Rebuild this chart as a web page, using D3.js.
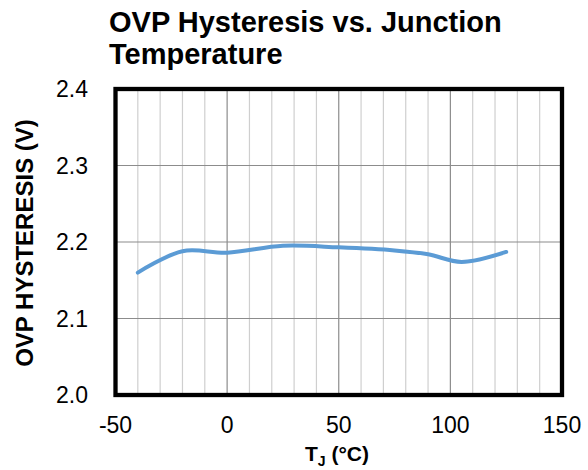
<!DOCTYPE html>
<html>
<head>
<meta charset="utf-8">
<script src="https://cdn.jsdelivr.net/npm/d3@7"></script>
<style>
  body { margin: 0; background: #fff; }
  text { font-family: "Liberation Sans", Arial, sans-serif; }
</style>
</head>
<body>
<div id="chart"></div>
<script>
// data
const temps = [-40, -20, 0, 25, 50, 75, 90, 105, 125];
const hyst = [2.160, 2.188, 2.186, 2.195, 2.193, 2.189, 2.184, 2.174, 2.187];
const xTicks = [-50, 0, 50, 100, 150];
const yTicks = [2.0, 2.1, 2.2, 2.3, 2.4];

const width = 588, height = 470;

const svg = d3.select("#chart").append("svg")
  .attr("width", width)
  .attr("height", height);

const x = d3.scaleLinear().domain([-50, 150]).range([115.5, 562]);
const y = d3.scaleLinear().domain([2.0, 2.4]).range([395, 89]);

// title
svg.append("text").attr("x", 109).attr("y", 32)
  .style("font-size", "29px").style("font-weight", "bold")
  .text("OVP Hysteresis vs. Junction");
svg.append("text").attr("x", 109).attr("y", 64)
  .style("font-size", "29px").style("font-weight", "bold")
  .text("Temperature");

// grid: minor every 10, major every 50
const g = svg.append("g");
g.selectAll("line.vminor").data(d3.range(-40, 150, 10).filter(v => v % 50 !== 0))
  .enter().append("line")
  .attr("x1", d => x(d)).attr("x2", d => x(d))
  .attr("y1", y(2.4)).attr("y2", y(2.0))
  .attr("stroke", "#cfcfcf").attr("stroke-width", 1.2);
g.selectAll("line.vmajor").data(xTicks.slice(1, -1))
  .enter().append("line")
  .attr("x1", d => x(d)).attr("x2", d => x(d))
  .attr("y1", y(2.4)).attr("y2", y(2.0))
  .attr("stroke", "#8c8c8c").attr("stroke-width", 1.2);
g.selectAll("line.h").data(yTicks.slice(1, -1))
  .enter().append("line")
  .attr("x1", x(-50)).attr("x2", x(150))
  .attr("y1", d => y(d)).attr("y2", d => y(d))
  .attr("stroke", "#8c8c8c").attr("stroke-width", 1.2);

// the curve
const line = d3.line()
  .x((d, i) => x(temps[i]))
  .y(d => y(d))
  .curve(d3.curveCatmullRom.alpha(0.5));
svg.append("path").datum(hyst)
  .attr("d", line)
  .attr("fill", "none")
  .attr("stroke", "#5b9bd5")
  .attr("stroke-width", 4)
  .attr("stroke-linecap", "round");

// frame
svg.append("rect")
  .attr("x", x(-50)).attr("y", y(2.4))
  .attr("width", x(150) - x(-50)).attr("height", y(2.0) - y(2.4))
  .attr("fill", "none").attr("stroke", "#000").attr("stroke-width", 4.3);

// tick labels
svg.selectAll("text.xt").data(xTicks).enter().append("text")
  .attr("x", d => x(d)).attr("y", 433)
  .attr("text-anchor", "middle")
  .style("font-size", "23px")
  .text(d => d);
svg.selectAll("text.yt").data(yTicks).enter().append("text")
  .attr("x", 88).attr("y", d => y(d) + 8)
  .attr("text-anchor", "end")
  .style("font-size", "23px")
  .text(d => d.toFixed(1));

// axis titles
const xl = svg.append("text").attr("x", 337).attr("y", 461)
  .attr("text-anchor", "middle")
  .style("font-size", "21px").style("font-weight", "bold");
xl.append("tspan").text("T");
xl.append("tspan").attr("dy", 5).style("font-size", "14px").text("J");
xl.append("tspan").attr("dy", -5).text(" (°C)");

svg.append("text")
  .attr("transform", `translate(33, 243) rotate(-90)`)
  .attr("text-anchor", "middle")
  .style("font-size", "24px").style("font-weight", "bold")
  .text("OVP HYSTERESIS (V)");
</script>
</body>
</html>
